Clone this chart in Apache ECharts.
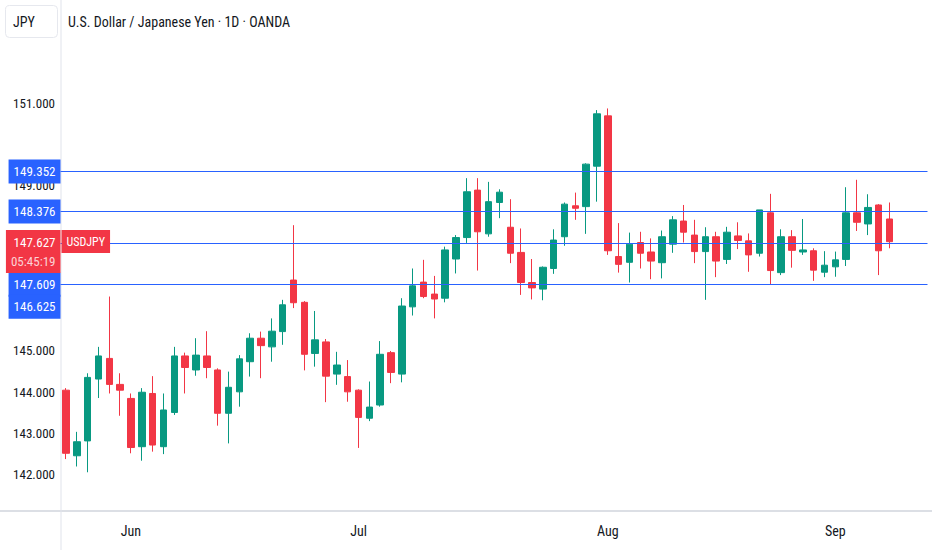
<!DOCTYPE html>
<html>
<head>
<meta charset="utf-8">
<script src="https://cdn.jsdelivr.net/npm/echarts@6/dist/echarts.min.js"></script>
<style>
html,body{margin:0;padding:0;background:#fff;}
#chart{width:932px;height:550px;}
</style>
</head>
<body>
<div id="chart"></div>
<script>
// ---- data ----
const dates = ['2025-05-23','2025-05-26','2025-05-27','2025-05-28','2025-05-29','2025-05-30',
'2025-06-02','2025-06-03','2025-06-04','2025-06-05','2025-06-06','2025-06-09','2025-06-10','2025-06-11','2025-06-12','2025-06-13',
'2025-06-16','2025-06-17','2025-06-18','2025-06-19','2025-06-20','2025-06-23','2025-06-24','2025-06-25','2025-06-26','2025-06-27','2025-06-30',
'2025-07-01','2025-07-02','2025-07-03','2025-07-04','2025-07-07','2025-07-08','2025-07-09','2025-07-10','2025-07-11',
'2025-07-14','2025-07-15','2025-07-16','2025-07-17','2025-07-18','2025-07-21','2025-07-22','2025-07-23','2025-07-24','2025-07-25',
'2025-07-28','2025-07-29','2025-07-30','2025-07-31','2025-08-01','2025-08-04','2025-08-05','2025-08-06','2025-08-07','2025-08-08',
'2025-08-11','2025-08-12','2025-08-13','2025-08-14','2025-08-15','2025-08-18','2025-08-19','2025-08-20','2025-08-21','2025-08-22',
'2025-08-25','2025-08-26','2025-08-27','2025-08-28','2025-08-29','2025-09-01','2025-09-02','2025-09-03','2025-09-04','2025-09-05','2025-09-08'];
const futureDates = ['2025-09-09','2025-09-10','2025-09-11'];

const openP = [144.05,142.46,142.82,144.32,144.82,144.19,
143.85,142.68,143.97,142.68,143.51,144.88,144.54,144.88,144.54,143.49,
144.01,144.74,145.31,145.10,145.47,146.72,146.18,144.94,145.22,144.44,144.38,
144.05,143.37,143.69,144.96,144.44,146.07,146.67,146.38,146.28,
147.23,147.75,148.90,147.84,148.60,148.00,147.39,146.66,146.50,147.00,
147.77,148.52,148.50,149.48,150.70,147.29,147.15,147.63,147.40,147.14,
147.59,148.15,147.81,147.41,147.77,147.22,147.79,147.67,147.37,148.35,
146.90,147.77,147.40,147.43,146.91,147.04,147.22,148.35,148.08,148.54,148.20];
const closeP = [142.52,142.80,144.36,144.88,144.19,144.05,
142.66,144.00,142.72,143.57,144.88,144.60,144.90,144.60,143.49,144.12,
144.81,145.31,145.13,145.48,146.12,146.17,144.92,145.27,144.39,144.66,144.01,
143.39,143.64,144.92,144.48,146.09,146.58,146.32,146.26,147.45,
147.75,148.86,147.89,148.62,148.85,147.37,146.66,146.53,147.03,147.69,
148.56,148.46,149.53,150.75,147.43,147.10,147.59,147.37,147.18,147.77,
148.18,147.88,147.41,147.77,147.18,147.88,147.68,147.33,148.42,146.95,
147.77,147.44,147.45,146.96,147.08,147.21,148.35,148.12,148.48,147.43,147.65];
const lowP = [142.38,142.20,142.06,143.86,143.97,143.43,
142.52,142.34,142.56,142.50,143.45,143.97,144.40,144.34,143.19,142.76,
143.65,144.38,144.34,144.74,145.15,146.04,144.53,144.62,143.76,144.18,143.77,
142.65,143.30,143.65,144.22,144.24,145.86,146.28,145.79,146.18,
146.88,147.62,146.95,147.77,148.22,147.13,146.36,146.25,146.23,146.87,
147.55,148.18,147.84,148.62,147.33,146.90,146.66,147.00,146.74,146.76,
147.38,147.63,147.13,146.24,146.79,147.11,147.47,146.92,147.29,146.62,
146.84,147.02,147.33,146.70,146.79,146.80,147.06,147.91,147.81,146.84,147.49];
const highP = [144.10,143.04,144.46,145.10,146.32,144.46,
143.97,144.10,144.39,143.97,145.10,144.96,145.31,145.48,144.58,144.50,
144.90,145.43,145.47,145.79,146.24,148.05,146.21,145.97,145.29,144.98,144.78,
144.07,144.26,145.24,145.00,146.28,147.00,147.21,146.82,147.53,
147.81,149.19,149.19,149.10,148.92,148.68,147.97,147.23,147.05,147.95,
148.60,148.84,149.55,150.84,150.88,148.10,147.87,147.89,147.73,147.92,
148.27,148.54,148.18,148.00,147.89,148.01,148.12,147.85,148.42,148.81,
147.95,147.93,148.20,147.49,147.42,147.41,148.97,149.15,148.80,148.56,148.60];

const levelLines = [149.352, 148.376, 147.609, 146.625];
const lastPrice = 147.627;
const countdown = '05:45:19';
const symbolName = 'USDJPY';
const titleText = 'U.S. Dollar / Japanese Yen \u00b7 1D \u00b7 OANDA';
const currencyText = 'JPY';
const yLabelValues = [142, 143, 144, 145, 149, 151];
const tickDates = ['2025-06-02', '2025-07-01', '2025-08-01', '2025-09-01'];
const tickLabels = ['Jun', 'Jul', 'Aug', 'Sep'];

// ---- chart ----
const FONT = "'Liberation Sans Narrow', 'Roboto Condensed', 'Liberation Sans', Roboto, sans-serif";
const UP = '#089981', DOWN = '#F23645', BLUE = '#2962FF', TXT = '#131722';
const CLEAR = 'rgba(0,0,0,0)';

const candles = dates.map((d, i) => [openP[i], closeP[i], lowP[i], highP[i]]);
const categories = dates.concat(futureDates);

const blueLabelOffsets = [[0, 0], [0, 0], [0, 41.5], [0, 23]];
const markData = levelLines.map((v, i) => ({
  yAxis: v,
  label: {
    show: true, position: 'start', distance: 0, offset: blueLabelOffsets[i],
    formatter: () => v.toFixed(3),
    backgroundColor: BLUE, color: '#fff', padding: [5, 5, 4, 5],
    fontSize: 13, lineHeight: 15, fontFamily: FONT
  }
}));
markData.push({
  yAxis: lastPrice,
  lineStyle: { color: CLEAR },
  label: {
    show: true, position: 'start', distance: 0, offset: [0, 9],
    formatter: () => '{a|' + lastPrice.toFixed(3) + '}\n{b|' + countdown + '}',
    backgroundColor: DOWN, padding: [3, 5, 2, 5], fontFamily: FONT,
    rich: {
      a: { color: '#fff', fontSize: 13, lineHeight: 19, fontFamily: FONT, align: 'right' },
      b: { color: 'rgba(255,255,255,0.78)', fontSize: 13, lineHeight: 19, fontFamily: FONT, align: 'right' }
    }
  }
});
markData.push({
  yAxis: lastPrice,
  lineStyle: { color: CLEAR },
  label: {
    show: true, position: 'insideStartTop', distance: 0, offset: [1, 10.5],
    formatter: () => symbolName,
    backgroundColor: DOWN, color: '#fff', padding: [4, 5, 4, 5],
    fontSize: 12, lineHeight: 15, fontFamily: FONT
  }
});

const chart = echarts.init(document.getElementById('chart'), null, { renderer: 'svg' });
chart.setOption({
  animation: false,
  backgroundColor: '#ffffff',
  textStyle: { fontFamily: FONT },
  title: [
    { text: titleText, left: 68, top: 14, padding: 0,
      textStyle: { fontSize: 14, fontWeight: 'normal', color: TXT, fontFamily: FONT, lineHeight: 16 } },
    { text: currencyText, left: 5, top: 5, padding: [8, 23, 8, 8],
      borderColor: '#e6e8ee', borderWidth: 1, borderRadius: 4,
      textStyle: { fontSize: 14, fontWeight: 'normal', color: TXT, fontFamily: FONT, lineHeight: 17 } }
  ],
  grid: { left: 60.5, right: 4.5, top: 0, bottom: 39 },
  xAxis: {
    type: 'category', data: categories, boundaryGap: true,
    axisLine: { show: false }, axisTick: { show: false }, splitLine: { show: false },
    axisLabel: {
      interval: (idx, val) => tickDates.indexOf(val) >= 0,
      formatter: v => { const k = tickDates.indexOf(v); return k >= 0 ? tickLabels[k] : ''; },
      color: TXT, fontSize: 14, margin: 13, fontFamily: FONT
    }
  },
  yAxis: {
    type: 'value', position: 'left', scale: true,
    min: 141.121, max: 153.509,
    axisLine: { show: false }, axisTick: { show: false }, splitLine: { show: false },
    axisLabel: {
      customValues: yLabelValues,
      formatter: v => yLabelValues.indexOf(Math.round(v * 1000) / 1000) >= 0 ? Number(v).toFixed(3) : '',
      color: TXT, fontSize: 13, margin: 5.5, fontFamily: FONT
    }
  },
  graphic: [
    { type: 'line', shape: { x1: 0, y1: 511, x2: 932, y2: 511 }, style: { stroke: '#d1d4dc', lineWidth: 1.5 }, silent: true, z: 0 },
    { type: 'line', shape: { x1: 61, y1: 0, x2: 61, y2: 550 }, style: { stroke: '#e0e3eb', lineWidth: 1 }, silent: true, z: 0 }
  ],
  series: [{
    type: 'candlestick',
    data: candles,
    barWidth: 7,
    clip: false,
    itemStyle: { color: UP, color0: DOWN, borderColor: UP, borderColor0: DOWN, borderWidth: 1 },
    markLine: {
      silent: true, symbol: ['none', 'none'], animation: false,
      lineStyle: { color: BLUE, width: 1, type: 'solid' },
      data: markData
    }
  }]
});
</script>
</body>
</html>
